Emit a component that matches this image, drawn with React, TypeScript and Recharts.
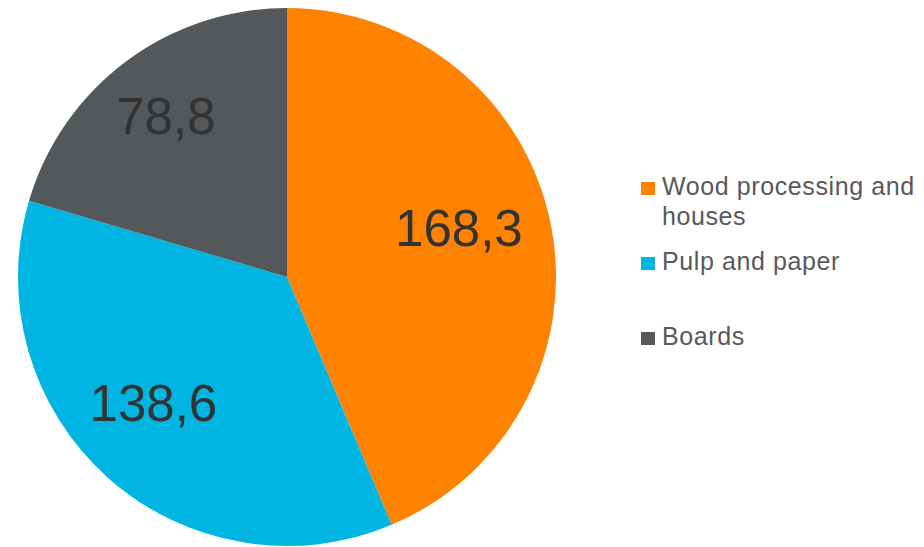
import { PieChart, Pie, Cell, Legend } from "recharts";

const categories = ["Wood processing and houses", "Pulp and paper", "Boards"];
const values = [168.3, 138.6, 78.8];
const valueLabels = ["168,3", "138,6", "78,8"];
const colors = ["#FF8200", "#00B5E2", "#54585A"];

const data = categories.map((name, i) => ({ name, value: values[i], label: valueLabels[i] }));

const RADIAN = Math.PI / 180;

const renderLabel = (props: any) => {
  const { cx, cy, midAngle, outerRadius, index } = props;
  const r = outerRadius * 0.69;
  const x = cx + r * Math.cos(-midAngle * RADIAN) - 10;
  const y = cy + r * Math.sin(-midAngle * RADIAN) - 12;
  return (
    <text
      x={x}
      y={y}
      fill="#333333"
      textAnchor="middle"
      dominantBaseline="central"
      style={{ fontFamily: "'Liberation Sans', Arial, sans-serif", fontSize: 51 }}
    >
      {data[index].label}
    </text>
  );
};

const renderLegend = () => (
  <div style={{ fontFamily: "'Liberation Sans', Arial, sans-serif" }}>
    {data.map((d, i) => (
      <div key={d.name} style={{ display: "flex", alignItems: "flex-start", height: 75 }}>
        <span
          style={{
            display: "inline-block",
            width: 14,
            height: 13,
            marginTop: 11,
            marginRight: 7,
            background: colors[i],
            flexShrink: 0,
          }}
        />
        <span style={{ fontSize: 25, lineHeight: "30px", letterSpacing: 0.6, color: "#595959" }}>
          {d.name}
        </span>
      </div>
    ))}
  </div>
);

export default function App() {
  return (
    <div style={{ position: "absolute", left: 0, top: 0, width: 924, height: 547, background: "#fff" }}>
      <PieChart width={924} height={547} margin={{ top: 0, right: 0, bottom: 0, left: 0 }}>
        <Pie
          data={data}
          dataKey="value"
          nameKey="name"
          cx={287}
          cy={277}
          outerRadius={269}
          startAngle={90}
          endAngle={-270}
          stroke="none"
          labelLine={false}
          label={renderLabel}
          isAnimationActive={false}
        >
          {data.map((d, i) => (
            <Cell key={d.name} fill={colors[i]} />
          ))}
        </Pie>
        <Legend
          content={renderLegend}
          wrapperStyle={{ position: "absolute", left: 641, top: 171, width: 283 }}
        />
      </PieChart>
    </div>
  );
}
